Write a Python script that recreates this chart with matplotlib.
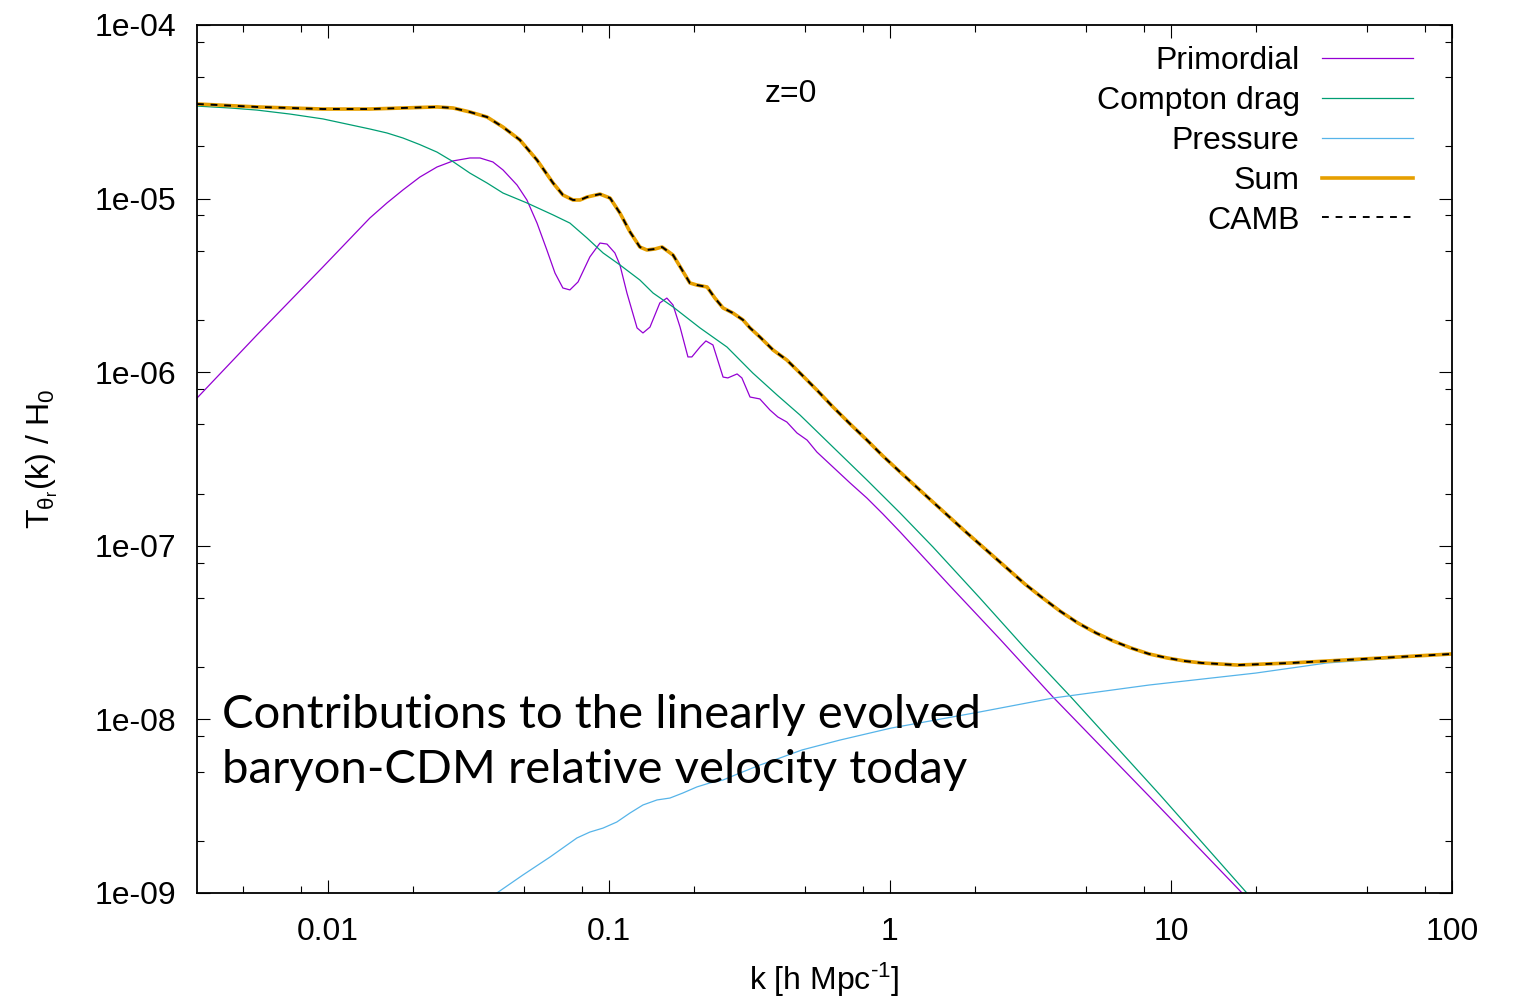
#!/usr/bin/env python3
"""Contributions to the linearly evolved baryon-CDM relative velocity today (z=0)."""

import matplotlib

matplotlib.use("Agg")
import matplotlib.pyplot as plt
import numpy as np
from matplotlib.ticker import FuncFormatter, LogLocator, NullFormatter

# Curves, stored as log10(k [h/Mpc]) and log10(T / H0)
primordial_logk = [
    -2.466, -2.253, -2.018, -1.851, -1.790, -1.733, -1.673, -1.612, -1.555, -1.495,
    -1.459, -1.413, -1.377, -1.327, -1.292, -1.256, -1.221, -1.192, -1.164, -1.139,
    -1.110, -1.068, -1.032, -1.007, -0.979, -0.961, -0.936, -0.900, -0.879, -0.854,
    -0.819, -0.794, -0.772, -0.747, -0.719, -0.705, -0.676, -0.655, -0.630, -0.594,
    -0.577, -0.544, -0.527, -0.498, -0.463, -0.427, -0.399, -0.367, -0.331, -0.295,
    -0.260, -0.203, -0.142, -0.082, -0.025, 0.036, 0.214, 0.391, 0.580, 0.925,
    1.253, 1.335,
]
primordial_logT = [
    -6.149, -5.786, -5.394, -5.112, -5.025, -4.950, -4.876, -4.818, -4.783, -4.766,
    -4.766, -4.789, -4.835, -4.922, -5.008, -5.141, -5.296, -5.429, -5.515, -5.526,
    -5.480, -5.336, -5.256, -5.262, -5.313, -5.382, -5.544, -5.745, -5.774, -5.740,
    -5.601, -5.573, -5.613, -5.740, -5.912, -5.912, -5.855, -5.820, -5.843, -6.028,
    -6.033, -6.010, -6.033, -6.143, -6.154, -6.218, -6.258, -6.287, -6.350, -6.391,
    -6.460, -6.546, -6.638, -6.725, -6.817, -6.920, -7.232, -7.537, -7.871, -8.447,
    -9.000, -9.138,
]

compton_logk = [
    -2.466, -2.349, -2.253, -2.135, -2.018, -1.851, -1.790, -1.733, -1.673, -1.612,
    -1.555, -1.495, -1.434, -1.377, -1.292, -1.199, -1.139, -1.078, -1.021, -0.961,
    -0.890, -0.843, -0.772, -0.676, -0.580, -0.488, -0.402, -0.320, -0.203, -0.082,
    0.036, 0.153, 0.320, 0.480, 0.644, 0.961, 1.270, 1.335,
]
compton_logT = [
    -4.467, -4.478, -4.490, -4.513, -4.541, -4.599, -4.622, -4.651, -4.689, -4.732,
    -4.787, -4.853, -4.910, -4.968, -5.025, -5.094, -5.141, -5.227, -5.313, -5.382,
    -5.469, -5.544, -5.624, -5.745, -5.855, -6.005, -6.131, -6.247, -6.431, -6.621,
    -6.811, -7.007, -7.301, -7.589, -7.871, -8.435, -9.000, -9.115,
]

pressure_logk = [
    -1.495, -1.399, -1.306, -1.210, -1.114, -1.068, -1.021, -0.972, -0.925, -0.879,
    -0.829, -0.783, -0.737, -0.687, -0.641, -0.594, -0.534, -0.463, -0.391, -0.313,
    -0.178, 0.004, 0.320, 0.580, 0.922, 1.302, 1.555, 2.000,
]
pressure_logT = [
    -9.109, -9.000, -8.896, -8.793, -8.683, -8.649, -8.626, -8.591, -8.539, -8.493,
    -8.464, -8.453, -8.424, -8.389, -8.366, -8.349, -8.309, -8.263, -8.222, -8.176,
    -8.119, -8.050, -7.957, -7.877, -7.802, -7.733, -7.675, -7.623,
]

sum_logk = [
    -2.466, -2.253, -2.018, -1.851, -1.733, -1.612, -1.555, -1.495, -1.434, -1.377,
    -1.317, -1.256, -1.199, -1.164, -1.128, -1.103, -1.078, -1.032, -0.996, -0.961,
    -0.925, -0.890, -0.865, -0.836, -0.811, -0.772, -0.744, -0.712, -0.687, -0.651,
    -0.623, -0.594, -0.559, -0.523, -0.498, -0.463, -0.416, -0.367, -0.320, -0.260,
    -0.203, -0.142, -0.082, -0.025, 0.036, 0.153, 0.274, 0.391, 0.480, 0.534,
    0.605, 0.669, 0.733, 0.794, 0.858, 0.922, 0.986, 1.050, 1.110, 1.238,
    1.427, 1.683, 2.000,
]
sum_logT = [
    -4.455, -4.472, -4.484, -4.484, -4.478, -4.472, -4.478, -4.501, -4.530, -4.588,
    -4.662, -4.778, -4.910, -4.979, -5.008, -5.008, -4.991, -4.974, -4.997, -5.083,
    -5.192, -5.279, -5.296, -5.290, -5.279, -5.325, -5.400, -5.486, -5.498, -5.509,
    -5.573, -5.630, -5.659, -5.699, -5.745, -5.797, -5.872, -5.930, -6.005, -6.103,
    -6.200, -6.298, -6.391, -6.483, -6.575, -6.748, -6.926, -7.093, -7.220, -7.289,
    -7.376, -7.445, -7.502, -7.548, -7.589, -7.623, -7.646, -7.664, -7.675, -7.687,
    -7.675, -7.652, -7.623,
]

# CAMB result lies on top of the sum everywhere
camb_logk = list(sum_logk)
camb_logT = list(sum_logT)

LABELS = ["Primordial", "Compton drag", "Pressure", "Sum", "CAMB"]
COLORS = ["#9400d3", "#009e73", "#56b4e9", "#e69f00", "black"]

W, H = 1513, 999


def main() -> None:
    plt.rcParams["font.family"] = ["Liberation Sans", "DejaVu Sans"]
    plt.rcParams["mathtext.fontset"] = "custom"
    plt.rcParams["mathtext.rm"] = "Liberation Sans"
    plt.rcParams["mathtext.it"] = "Liberation Sans:italic"
    plt.rcParams["mathtext.default"] = "regular"

    fig = plt.figure(figsize=(W / 100, H / 100), dpi=100)
    ax = fig.add_axes([197 / W, 1 - 893 / H, (1452 - 197) / W, (893 - 25) / H])

    series = [
        (primordial_logk, primordial_logT),
        (compton_logk, compton_logT),
        (pressure_logk, pressure_logT),
        (sum_logk, sum_logT),
    ]
    for (lk, lt), label, color in zip(series, LABELS[:4], COLORS[:4]):
        lw = 2.6 if label == "Sum" else 0.9
        ax.plot(10 ** np.array(lk), 10 ** np.array(lt), color=color, lw=lw, label=label,
                solid_joinstyle="round")
    ax.plot(
        10 ** np.array(camb_logk), 10 ** np.array(camb_logT),
        color=COLORS[4], lw=1.4, dashes=(3.5, 3.5), label=LABELS[4],
    )

    ax.set_xscale("log")
    ax.set_yscale("log")
    ax.set_xlim(10 ** -2.466, 100)
    ax.set_ylim(1e-9, 1e-4)

    ax.xaxis.set_major_locator(LogLocator(base=10, numticks=10))
    ax.xaxis.set_minor_locator(LogLocator(base=10, subs=(2, 5, 8), numticks=20))
    ax.yaxis.set_major_locator(LogLocator(base=10, numticks=10))
    ax.yaxis.set_minor_locator(LogLocator(base=10, subs=(2, 5, 8), numticks=20))
    ax.xaxis.set_major_formatter(FuncFormatter(lambda v, _: f"{v:g}"))
    ax.yaxis.set_major_formatter(FuncFormatter(lambda v, _: f"{v:.0e}"))
    ax.xaxis.set_minor_formatter(NullFormatter())
    ax.yaxis.set_minor_formatter(NullFormatter())

    ax.tick_params(which="both", direction="in", top=True, right=True, width=0.8, colors="black")
    ax.tick_params(which="major", length=9.5, labelsize=23)
    ax.tick_params(which="minor", length=5)
    ax.tick_params(axis="x", which="major", pad=17)
    ax.tick_params(axis="y", which="major", pad=15)
    for spine in ax.spines.values():
        spine.set_linewidth(1.3)

    ax.set_xlabel(r"k [h Mpc$^{\text{-}1}$]", fontsize=23, labelpad=10)
    ax.set_ylabel(r"T$_{\theta_r}$(k) / H$_0$", fontsize=23)
    ax.yaxis.set_label_coords(-0.109, 0.5)

    ax.text(0.473, 0.92, "z=0", transform=ax.transAxes, fontsize=23, ha="center", va="center")

    ax.legend(
        loc="upper right", bbox_to_anchor=(1413 / W, 1 - 46 / H), bbox_transform=fig.transFigure,
        frameon=False, markerfirst=False, fontsize=23, handlelength=2.85, handletextpad=0.7,
        labelspacing=0.31, borderpad=0, borderaxespad=0,
    )

    note_font = ["Lato", "DejaVu Sans"]
    fig.text(222 / W, 1 - 728 / H, "Contributions to the linearly evolved",
             family=note_font, fontsize=34, va="baseline", ha="left")
    fig.text(222 / W, 1 - 783 / H, "baryon-CDM relative velocity today",
             family=note_font, fontsize=34, va="baseline", ha="left")

    fig.savefig("out.png", dpi=100)
    print("Saved out.png")


if __name__ == "__main__":
    main()
